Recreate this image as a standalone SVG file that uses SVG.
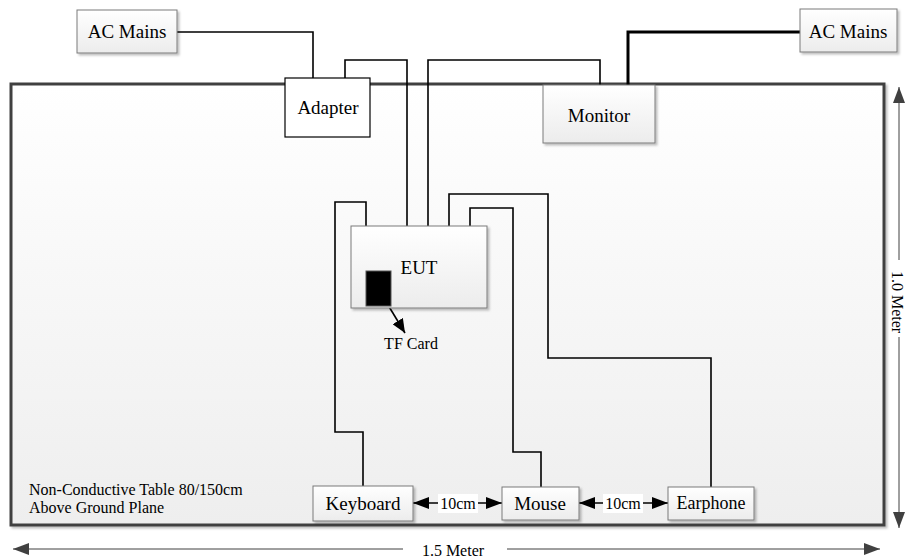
<svg xmlns="http://www.w3.org/2000/svg" width="905" height="560" viewBox="0 0 905 560" font-family="'Liberation Serif', 'Times New Roman', serif">
<defs>
<linearGradient id="g" x1="0" y1="0" x2="0" y2="1"><stop offset="0" stop-color="#ffffff"/><stop offset="1" stop-color="#ececec"/></linearGradient>
<linearGradient id="gt" x1="0" y1="0" x2="0" y2="1"><stop offset="0" stop-color="#ffffff"/><stop offset="1" stop-color="#eeeeee"/></linearGradient>
<filter id="sh" x="-10%" y="-10%" width="130%" height="140%"><feDropShadow dx="2" dy="2" stdDeviation="1" flood-color="#000" flood-opacity="0.25"/></filter>
<marker id="ab" viewBox="0 0 16 12" refX="16" refY="6" markerWidth="16" markerHeight="12" markerUnits="userSpaceOnUse" orient="auto-start-reverse"><path d="M0,0 L16,6 L0,12 Z" fill="#000"/></marker>
<marker id="ag" viewBox="0 0 16 12" refX="16" refY="6" markerWidth="16" markerHeight="12" markerUnits="userSpaceOnUse" orient="auto"><path d="M0,0 L16,6 L0,12 Z" fill="#404040"/></marker>
<marker id="tf" viewBox="0 0 14 12" refX="14" refY="6" markerWidth="14" markerHeight="12" markerUnits="userSpaceOnUse" orient="auto"><path d="M0,0 L14,6 L0,12 Z" fill="#000"/></marker>
</defs>
<style>
text{font-family:'Liberation Serif','Times New Roman',serif;fill:#000}
.n{font-size:19px;text-anchor:middle}
.s{font-size:16px}
.box{fill:url(#g);stroke:#7a7a7a;stroke-width:1;filter:url(#sh)}
.c{fill:none;stroke:#000;stroke-width:1.6}
.dim{fill:none;stroke:#404040;stroke-width:1}
</style>
<rect width="905" height="560" fill="#fff"/>
<g id="table">
<rect x="11" y="84" width="873" height="441" fill="url(#gt)" stroke="#404040" stroke-width="3" filter="url(#sh)"/>
<text class="s" x="29" y="495" font-family="'Liberation Serif', serif">Non-Conductive Table 80/150cm</text>
<text class="s" x="29" y="513" font-family="'Liberation Serif', serif">Above Ground Plane</text>
</g>
<g id="connectors">
<polyline class="c" points="177,32 313,32 313,78"/>
<polyline class="c" points="345,78 345,60 407,60 407,226"/>
<polyline class="c" points="428,226 428,60 600,60 600,85"/>
<polyline class="c" style="stroke-width:3" points="800,32 628,32 628,85"/>
<polyline class="c" points="363,486 363,432 335,432 335,202 366,202 366,226"/>
<polyline class="c" points="541,487 541,452 513,452 513,208 470,208 470,226"/>
<polyline class="c" points="711,487 711,358 548,358 548,194 449,194 449,226"/>
<line class="c" x1="388" y1="305" x2="405" y2="333" marker-end="url(#tf)"/>
<line x1="413" y1="503" x2="502" y2="503" stroke="#000" stroke-width="1.5" marker-start="url(#ab)" marker-end="url(#ab)"/>
<line x1="579" y1="503" x2="668" y2="503" stroke="#000" stroke-width="1.5" marker-start="url(#ab)" marker-end="url(#ab)"/>
</g>
<g id="ac-mains-left" font-family="'Liberation Serif', serif"><rect class="box" x="77" y="10" width="100" height="43"/><text class="n" x="127" y="38">AC Mains</text></g>
<g id="ac-mains-right" font-family="'Liberation Serif', serif"><rect class="box" x="800" y="9" width="97" height="43"/><text class="n" x="848" y="38">AC Mains</text></g>
<g id="adapter" font-family="'Liberation Serif', serif"><rect x="285" y="78" width="85" height="59" fill="#fff" stroke="#000" stroke-width="1.2"/><text class="n" x="328" y="114">Adapter</text></g>
<g id="monitor" font-family="'Liberation Serif', serif"><rect class="box" x="543" y="85" width="112" height="58"/><text class="n" x="599" y="122">Monitor</text></g>
<g id="eut" font-family="'Liberation Serif', serif"><rect class="box" x="351" y="226" width="136" height="82"/><text class="n" x="419" y="274">EUT</text>
<rect x="366" y="271" width="25" height="35" fill="#000" stroke="#555" stroke-width="1"/></g>
<g id="tf-card" font-family="'Liberation Serif', serif"><text class="s" x="411" y="349" text-anchor="middle">TF Card</text></g>
<g id="keyboard" font-family="'Liberation Serif', serif"><rect class="box" x="313" y="486" width="100" height="35"/><text class="n" x="363" y="510">Keyboard</text></g>
<g id="mouse" font-family="'Liberation Serif', serif"><rect class="box" x="502" y="487" width="77" height="33"/><text class="n" x="540" y="510">Mouse</text></g>
<g id="earphone" font-family="'Liberation Serif', serif"><rect class="box" x="668" y="487" width="86" height="33"/><text class="n" style="font-size:18px" x="711" y="509">Earphone</text></g>
<g id="labels-10cm" font-family="'Liberation Serif', serif">
<rect x="438" y="494" width="40" height="19" fill="#fff"/><text class="s" x="458" y="509" text-anchor="middle">10cm</text>
<rect x="603" y="494" width="40" height="19" fill="#fff"/><text class="s" x="623" y="509" text-anchor="middle">10cm</text>
</g>
<g id="dimensions" font-family="'Liberation Serif', serif">
<line class="dim" x1="403" y1="549" x2="13" y2="549" marker-end="url(#ag)"/>
<line class="dim" x1="507" y1="549" x2="880" y2="549" marker-end="url(#ag)"/>
<text class="s" x="453" y="556" text-anchor="middle">1.5 Meter</text>
<line class="dim" x1="899" y1="260" x2="899" y2="87" marker-end="url(#ag)"/>
<line class="dim" x1="899" y1="337" x2="899" y2="528" marker-end="url(#ag)"/>
<text class="s" transform="translate(892,302) rotate(90)" text-anchor="middle">1.0 Meter</text>
</g>
</svg>
